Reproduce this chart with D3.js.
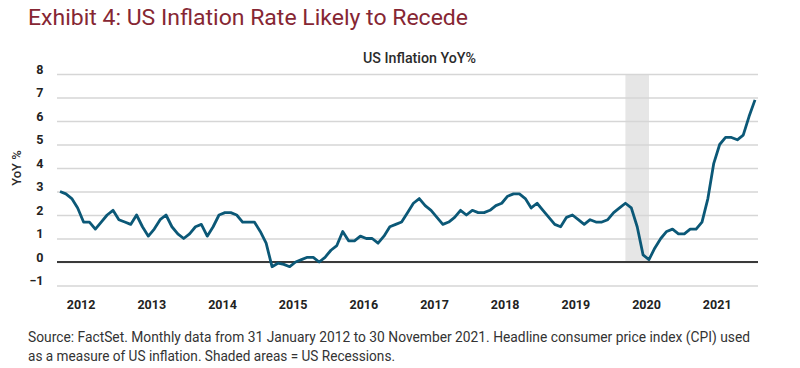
<!DOCTYPE html>
<html>
<head>
<meta charset="utf-8">
<script src="https://cdn.jsdelivr.net/npm/d3@7"></script>
<style>
  body { margin: 0; background: #fff; }
  text { font-family: Roboto, "Noto Sans", sans-serif; }
</style>
</head>
<body>
<div id="chart"></div>
<script>
// monthly US CPI YoY %, Jan 2012 .. Nov 2021
var years = [2012, 2013, 2014, 2015, 2016, 2017, 2018, 2019, 2020, 2021];
var inflation = [
  3.0, 2.9, 2.7, 2.3, 1.7, 1.7, 1.4, 1.7, 2.0, 2.2, 1.8, 1.7,
  1.6, 2.0, 1.5, 1.1, 1.4, 1.8, 2.0, 1.5, 1.2, 1.0, 1.2, 1.5,
  1.6, 1.1, 1.5, 2.0, 2.1, 2.1, 2.0, 1.7, 1.7, 1.7, 1.3, 0.8,
  -0.2, -0.05, -0.1, -0.2, 0.0, 0.1, 0.2, 0.2, 0.0, 0.2, 0.5, 0.7,
  1.3, 0.9, 0.9, 1.1, 1.0, 1.0, 0.8, 1.1, 1.5, 1.6, 1.7, 2.1,
  2.5, 2.7, 2.4, 2.2, 1.9, 1.6, 1.7, 1.9, 2.2, 2.0, 2.2, 2.1,
  2.1, 2.2, 2.4, 2.5, 2.8, 2.9, 2.9, 2.7, 2.3, 2.5, 2.2, 1.9,
  1.6, 1.5, 1.9, 2.0, 1.8, 1.6, 1.8, 1.7, 1.7, 1.8, 2.1, 2.3,
  2.5, 2.3, 1.5, 0.3, 0.1, 0.6, 1.0, 1.3, 1.4, 1.2, 1.2, 1.4,
  1.4, 1.7, 2.7, 4.2, 5.0, 5.3, 5.3, 5.2, 5.4, 6.2, 6.9
];
var yTicks = [-1, 0, 1, 2, 3, 4, 5, 6, 7, 8];
// recession shading as month indexes (Jan 2020 .. May 2020)
var recession = [96, 100];

var width = 800, height = 368;
var svg = d3.select('#chart').append('svg')
  .attr('width', width)
  .attr('height', height);

var x = d3.scaleLinear().domain([0, inflation.length - 1]).range([60, 755]);
var y = d3.scaleLinear().domain([-1, 8]).range([285.5, 74]);
var gridLeft = 57, gridRight = 758;

// titles
svg.append('text')
  .attr('x', 28).attr('y', 25)
  .attr('fill', '#862633')
  .attr('font-size', 22)
  .attr('textLength', 440).attr('lengthAdjust', 'spacingAndGlyphs')
  .text('Exhibit 4: US Inflation Rate Likely to Recede');

svg.append('text')
  .attr('x', 363).attr('y', 63)
  .attr('fill', '#2b2b2b')
  .attr('font-size', 14).attr('font-weight', 500)
  .attr('textLength', 113).attr('lengthAdjust', 'spacingAndGlyphs')
  .text('US Inflation YoY%');

// recession band
svg.append('rect')
  .attr('x', x(recession[0]))
  .attr('width', x(recession[1]) - x(recession[0]))
  .attr('y', y(8))
  .attr('height', y(0) - y(8))
  .attr('fill', '#e6e6e6');

// gridlines + y labels
var yAxis = svg.append('g')
  .attr('transform', 'translate(' + gridLeft + ',0)')
  .call(d3.axisLeft(y).tickValues(yTicks).tickSize(-(gridRight - gridLeft)).tickPadding(13.5));
yAxis.select('.domain').remove();
yAxis.selectAll('line').attr('stroke', '#d6d6d6').attr('stroke-width', 1.5);
yAxis.selectAll('text')
  .attr('dy', '-1')
  .attr('fill', '#222')
  .attr('font-size', 12.5)
  .attr('font-weight', 'bold');

// zero line
svg.append('line')
  .attr('x1', gridLeft).attr('x2', gridRight)
  .attr('y1', y(0)).attr('y2', y(0))
  .attr('stroke', '#3a3a3a').attr('stroke-width', 2);

svg.append('text')
  .attr('transform', 'translate(21,168) rotate(-90)')
  .attr('text-anchor', 'middle')
  .attr('fill', '#2b2b2b')
  .attr('font-size', 13).attr('font-weight', 500)
  .text('YoY %');

// x labels
var xAxis = svg.append('g')
  .attr('transform', 'translate(0,297)')
  .call(d3.axisBottom(x)
    .tickValues(years.map(function (yr) { return (yr - 2012) * 12 + 3.5; }))
    .tickFormat(function (d) { return years[Math.round((d - 3.5) / 12)]; })
    .tickSize(0).tickPadding(0));
xAxis.select('.domain').remove();
xAxis.selectAll('text')
  .attr('dy', '12')
  .attr('fill', '#222')
  .attr('font-size', 12.5)
  .attr('font-weight', 'bold');

// inflation line
var line = d3.line()
  .x(function (d, i) { return x(i); })
  .y(function (d) { return y(d); });

svg.append('path')
  .datum(inflation)
  .attr('d', line)
  .attr('fill', 'none')
  .attr('stroke', '#0b5877')
  .attr('stroke-width', 2.8)
  .attr('stroke-linejoin', 'round');

// source note
var note = svg.append('g').attr('fill', '#333').attr('font-size', 14);
note.append('text')
  .attr('x', 28).attr('y', 342)
  .attr('textLength', 722).attr('lengthAdjust', 'spacingAndGlyphs')
  .text('Source: FactSet. Monthly data from 31 January 2012 to 30 November 2021. Headline consumer price index (CPI) used');
note.append('text')
  .attr('x', 28).attr('y', 361)
  .attr('textLength', 367).attr('lengthAdjust', 'spacingAndGlyphs')
  .text('as a measure of US inflation. Shaded areas = US Recessions.');
</script>
</body>
</html>
